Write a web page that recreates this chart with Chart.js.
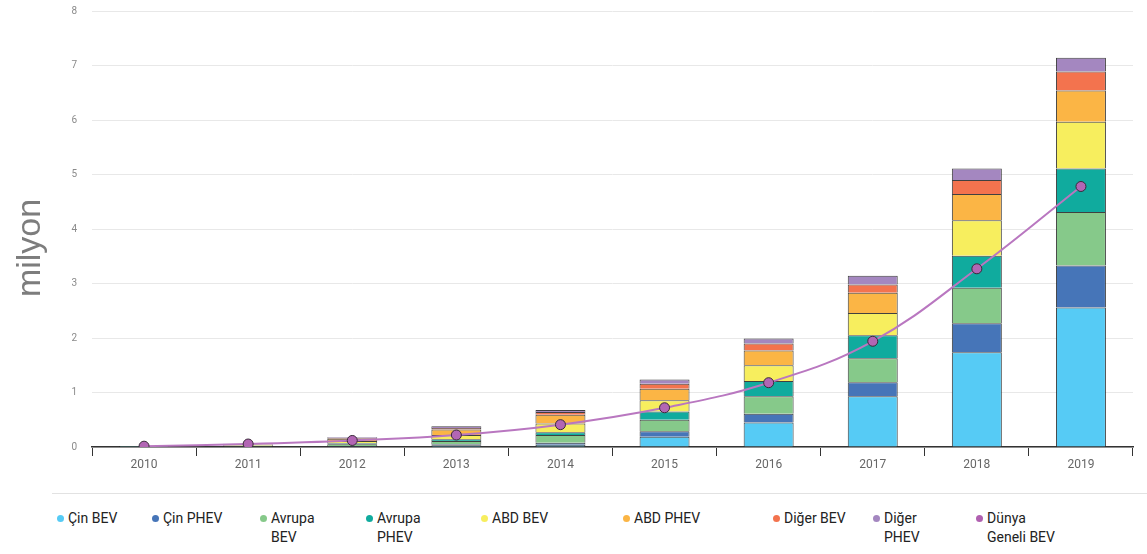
<!DOCTYPE html>
<html lang="tr">
<head>
<meta charset="utf-8">
<title>Elektrikli araç stoku</title>
<script src="https://cdn.jsdelivr.net/npm/chart.js@4.4.1/dist/chart.umd.min.js"></script>
<style>
  html, body { margin: 0; padding: 0; background: #fff; }
  body { width: 1147px; height: 554px; position: relative; overflow: hidden; font-family: Roboto, "Liberation Sans", sans-serif; }
  #kutu { position: absolute; left: 0; top: -10px; width: 1147px; height: 490px; }
  #ayrac { position: absolute; left: 52px; right: 0; top: 493px; border-top: 1px solid #e2e2e2; }
  #lejant { position: absolute; left: 0; top: 509px; width: 1147px; height: 45px; }
  .oge { position: absolute; top: 0; font-size: 14px; line-height: 19px; color: #222; }
  .oge .nokta { position: absolute; left: 0; top: 6px; width: 7px; height: 7px; border-radius: 50%; }
  .oge .yazi { position: absolute; left: 11px; top: 0; white-space: nowrap; }
</style>
</head>
<body>
<div id="kutu"><canvas id="myChart"></canvas></div>
<div id="ayrac"></div>
<div id="lejant"></div>
<script>
const grafico = document.querySelector("#myChart")

// yillar
const yillar = ["2010", "2011", "2012", "2013", "2014", "2015", "2016", "2017", "2018", "2019"]

// stok, milyon arac
const cinBEV     = [0.002, 0.005, 0.01, 0.03, 0.04, 0.19, 0.45, 0.93, 1.74, 2.56]
const cinPHEV    = [0.000, 0.003, 0.01, 0.02, 0.04, 0.10, 0.16, 0.26, 0.53, 0.77]
const avrupaBEV  = [0.005, 0.012, 0.03, 0.06, 0.14, 0.21, 0.32, 0.44, 0.65, 0.98]
const avrupaPHEV = [0.000, 0.005, 0.02, 0.03, 0.05, 0.15, 0.28, 0.42, 0.59, 0.80]
const abdBEV     = [0.007, 0.015, 0.04, 0.08, 0.16, 0.21, 0.29, 0.41, 0.65, 0.86]
const abdPHEV    = [0.003, 0.012, 0.04, 0.10, 0.16, 0.21, 0.27, 0.37, 0.48, 0.57]
const digerBEV   = [0.002, 0.005, 0.015, 0.03, 0.05, 0.09, 0.13, 0.15, 0.26, 0.35]
const digerPHEV  = [0.001, 0.003, 0.015, 0.03, 0.04, 0.08, 0.09, 0.16, 0.21, 0.25]
const dunyaBEV   = [0.015, 0.055, 0.12, 0.22, 0.41, 0.72, 1.18, 1.94, 3.27, 4.78]

const yEtiketleri = [0, 1, 2, 3, 4, 5, 6, 7, 8]
const yBaslik = "milyon"

const cubukSeri = [
    { label: "Çin BEV", data: cinBEV, renk: "#56cbf5" },
    { label: "Çin PHEV", data: cinPHEV, renk: "#4675b8" },
    { label: "Avrupa BEV", data: avrupaBEV, renk: "#86c98a" },
    { label: "Avrupa PHEV", data: avrupaPHEV, renk: "#10ab9e" },
    { label: "ABD BEV", data: abdBEV, renk: "#f7ee5e" },
    { label: "ABD PHEV", data: abdPHEV, renk: "#fbb545" },
    { label: "Diğer BEV", data: digerBEV, renk: "#f3734e" },
    { label: "Diğer PHEV", data: digerPHEV, renk: "#a487c0" },
]

const datasets = cubukSeri.map(s => ({
    type: 'bar',
    label: s.label,
    data: s.data,
    backgroundColor: s.renk,
    borderColor: 'rgba(30,30,30,0.85)',
    borderWidth: 1,
    stack: 'cubuk',
    order: 1,
}))

datasets.push({
    type: 'line',
    label: "Dünya Geneli BEV",
    data: dunyaBEV,
    stack: 'cizgi',
    order: 0,
    borderColor: '#b977c0',
    backgroundColor: '#b060b0',
    borderWidth: 2,
    tension: 0.4,
    pointRadius: 5,
    pointBackgroundColor: '#b266b4',
    pointBorderColor: '#3a2a3a',
    pointBorderWidth: 1,
})

// y ekseni basligi, dikey (canvas 10px yukarida)
const baslikEklentisi = {
    id: 'yBaslik',
    afterDraw(chart) {
        const ctx = chart.ctx
        ctx.save()
        ctx.translate(31, 258)
        ctx.rotate(-Math.PI / 2)
        ctx.font = '34px "Liberation Sans", Arial, sans-serif'
        ctx.fillStyle = '#7d7d7d'
        ctx.textAlign = 'center'
        ctx.textBaseline = 'middle'
        ctx.fillText(yBaslik, 0, 0)
        ctx.restore()
    }
}

//gerar grafico
new Chart(grafico, {
    data: { labels: yillar, datasets: datasets },
    options: {
        responsive: true,
        maintainAspectRatio: false,
        animation: false,
        layout: { padding: { top: 0, right: 14, left: 0, bottom: 0 } },
        datasets: { bar: { barPercentage: 0.48, categoryPercentage: 1 } },
        plugins: { legend: { display: false }, tooltip: { enabled: false } },
        scales: {
            x: {
                stacked: true,
                grid: { offset: true, drawOnChartArea: false, drawTicks: true, tickLength: 9, color: '#333' },
                border: { display: true, color: '#333', width: 1.5 },
                ticks: { color: '#666', font: { size: 12, family: 'Roboto' }, padding: 2 },
                afterFit: s => { s.height = 33 }
            },
            y: {
                stacked: true,
                min: 0,
                max: 8,
                afterBuildTicks: s => { s.ticks = yEtiketleri.map(v => ({ value: v })) },
                grid: { color: '#e8e8e8', drawTicks: false },
                border: { display: false },
                ticks: { color: '#8a8a8a', font: { size: 10, family: 'Roboto' }, padding: 15 },
                afterFit: s => { s.width = 92 }
            }
        }
    },
    plugins: [baslikEklentisi]
});

// lejant: yatay konum ve iki satira kirilan etiketlerin genisligi
const lejant = document.querySelector("#lejant")
const lejantX = [57, 152, 260, 366, 481, 623, 773, 873, 976]
const lejantGenislik = [0, 0, 56, 56, 0, 0, 0, 50, 76]
datasets.forEach((d, i) => {
    const oge = document.createElement('div')
    oge.className = 'oge'
    oge.style.left = lejantX[i] + 'px'
    const nokta = document.createElement('span')
    nokta.className = 'nokta'
    nokta.style.background = d.backgroundColor
    const yazi = document.createElement('span')
    yazi.className = 'yazi'
    yazi.textContent = d.label
    if (lejantGenislik[i]) {
        yazi.style.whiteSpace = 'normal'
        yazi.style.width = lejantGenislik[i] + 'px'
    }
    oge.appendChild(nokta)
    oge.appendChild(yazi)
    lejant.appendChild(oge)
})
</script>
</body>
</html>
